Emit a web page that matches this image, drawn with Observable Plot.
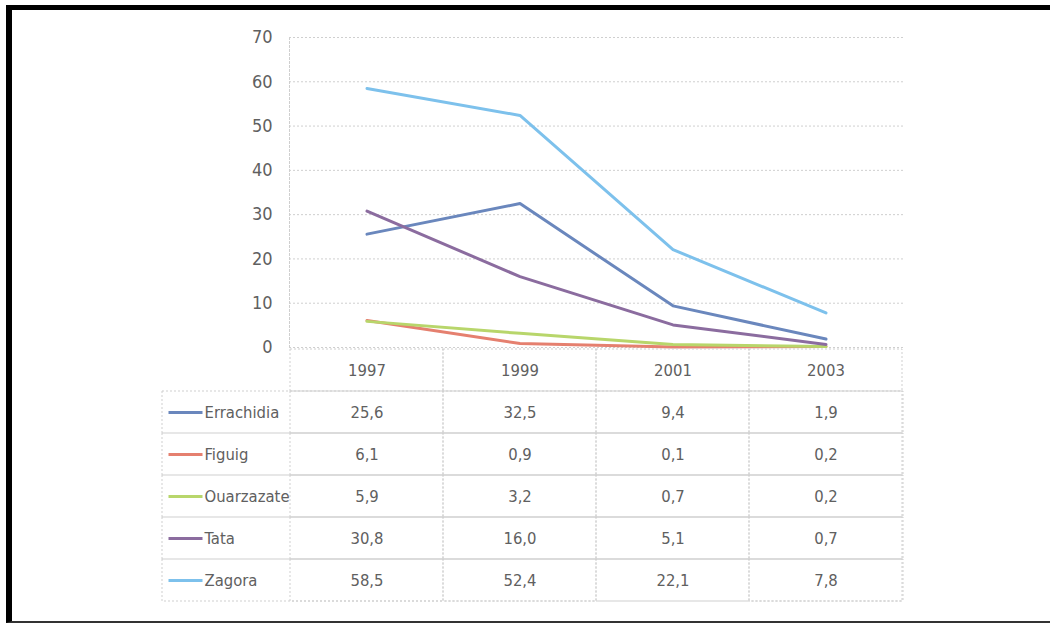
<!DOCTYPE html>
<html>
<head>
<meta charset="utf-8">
<script src="https://cdn.jsdelivr.net/npm/d3@7"></script>
<script src="https://cdn.jsdelivr.net/npm/@observablehq/plot@0.6"></script>
<style>
  html, body { margin: 0; padding: 0; background: #fff; }
  #page { position: relative; width: 1050px; height: 624px; overflow: hidden; background: #fff; }
  #box { position: absolute; left: 6px; top: 5px; width: 1100px; height: 611px;
         border-top: 5px solid #000; border-left: 6px solid #000; border-bottom: 2px solid #333; }
  #chart, #table { position: absolute; left: 0; }
  #chart { top: 0; }
  #table { top: 347px; }
</style>
</head>
<body>
<div id="page">
  <div id="box"></div>
  <div id="chart"></div>
  <div id="table"></div>
</div>
<script>
// ---- data ----
const years = ["1997", "1999", "2001", "2003"];
const names = ["Errachidia", "Figuig", "Ouarzazate", "Tata", "Zagora"];
const errachidia = [25.6, 32.5, 9.4, 1.9];
const figuig = [6.1, 0.9, 0.1, 0.2];
const ouarzazate = [5.9, 3.2, 0.7, 0.2];
const tata = [30.8, 16.0, 5.1, 0.7];
const zagora = [58.5, 52.4, 22.1, 7.8];
const yTicks = [0, 10, 20, 30, 40, 50, 60, 70];
const colors = ["#6a87bd", "#e5806f", "#b8d66b", "#8b6c9f", "#7dc1ec"];

const seriesValues = [errachidia, figuig, ouarzazate, tata, zagora];
const rows = names.flatMap((name, i) => years.map((year, j) => ({name, year, value: seriesValues[i][j]})));
const headerKey = "header";
const gridCells = [headerKey, ...names].flatMap(row => years.map(year => ({row, year})));

// ---- style ----
const FONT = "'Liberation Sans Narrow', 'DejaVu Sans Condensed', 'Roboto Condensed', sans-serif";
const TEXT = "#606060";
const GRID = "#cfcfcf";
const DASH = "2,2";
const FS = 16.5;
const W = 1050, ML = 289, MR = 147;
const fmt = d3.formatLocale({decimal: ",", thousands: " ", grouping: [3], currency: ["", ""]}).format(".1f");
const hline = {draw(ctx, size) { const r = Math.sqrt(size / Math.PI); ctx.moveTo(-r, 0); ctx.lineTo(r, 0); }};

// ---- line chart ----
const chart = Plot.plot({
  width: W, height: 360,
  marginLeft: ML, marginRight: MR, marginTop: 37, marginBottom: 13,
  style: {background: "transparent", fontFamily: FONT, overflow: "visible"},
  x: {type: "band", domain: years, padding: 0, axis: null},
  y: {domain: [0, 70], axis: null},
  color: {domain: names, range: colors},
  marks: [
    Plot.ruleY(yTicks, {stroke: GRID, strokeDasharray: DASH}),
    Plot.frame({anchor: "left", stroke: GRID, strokeDasharray: DASH}),
    Plot.axisY(yTicks, {tickSize: 0, tickPadding: 17, fontSize: 18, color: TEXT, label: null}),
    Plot.line(rows, {x: "year", y: "value", z: "name", stroke: "name", strokeWidth: 3, strokeLinejoin: "round"})
  ]
});
document.getElementById("chart").appendChild(chart);

// ---- data table ----
const table = Plot.plot({
  width: W, height: 255,
  marginLeft: ML, marginRight: MR, marginTop: 0, marginBottom: 0,
  style: {background: "transparent", fontFamily: FONT, overflow: "visible"},
  x: {type: "band", domain: years, padding: 0, axis: null},
  y: {type: "band", domain: [headerKey, ...names], padding: 0, axis: null},
  color: {domain: names, range: colors},
  marks: [
    Plot.cell(names, {y: d => d, inset: 0, insetLeft: -127, fill: "none", stroke: GRID, strokeDasharray: DASH}),
    Plot.cell(gridCells, {x: "year", y: "row", inset: 0, fill: "none", stroke: GRID, strokeDasharray: DASH}),
    Plot.text(years, {x: d => d, y: () => headerKey, text: d => d, fontSize: FS, fill: TEXT}),
    Plot.text(rows, {x: "year", y: "name", text: d => fmt(d.value), fontSize: FS, fill: TEXT}),
    Plot.text(names, {y: d => d, text: d => d, frameAnchor: "left", textAnchor: "start", dx: -85, fontSize: FS, fill: TEXT}),
    Plot.dot(names, {y: d => d, frameAnchor: "left", dx: -104, r: 17, symbol: hline, fill: "none", stroke: d => d, strokeWidth: 3})
  ]
});
document.getElementById("table").appendChild(table);
</script>
</body>
</html>
